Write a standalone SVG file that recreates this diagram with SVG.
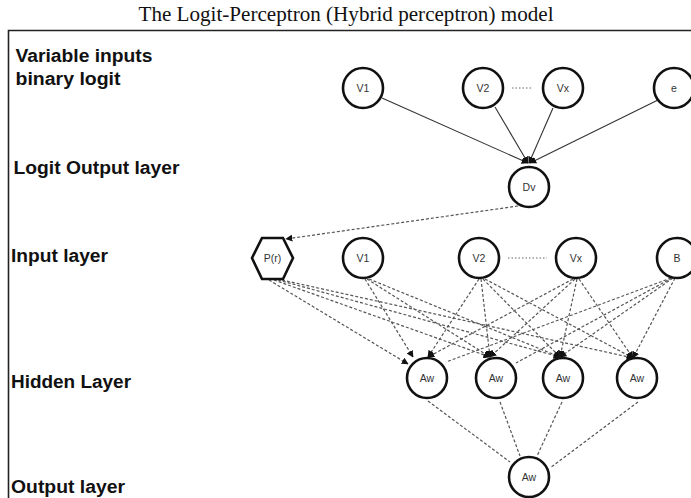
<svg xmlns="http://www.w3.org/2000/svg" width="691" height="498" viewBox="0 0 691 498">
<style>
.title{font-family:"Liberation Serif","Times New Roman",serif;font-size:20.5px;fill:#111}
.lbl{font-family:"Liberation Sans",Arial,sans-serif;font-weight:bold;font-size:18px;fill:#111}
.node{fill:#fff;stroke:#111;stroke-width:2.6}
.nt{font-family:"Liberation Sans",Arial,sans-serif;font-size:10.5px;fill:#333;text-anchor:middle;dominant-baseline:central}
.solid{stroke:#333;stroke-width:1.1;fill:none}
.dash{stroke:#555;stroke-width:1.2;stroke-dasharray:3 2;fill:none}
.dots{stroke:#666;stroke-width:1;stroke-dasharray:1.5 2;fill:none}
</style>
<defs>
<marker id="ah" viewBox="0 0 10 10" refX="9" refY="5" markerWidth="7" markerHeight="7" markerUnits="userSpaceOnUse" orient="auto">
<path d="M0,0 L10,5 L0,10 z" fill="#111"/>
</marker>
</defs>
<rect width="691" height="498" fill="#fff"/>
<text class="title" x="346" y="21" text-anchor="middle" textLength="415" lengthAdjust="spacingAndGlyphs">The Logit-Perceptron (Hybrid perceptron) model</text>
<path d="M8.5,498 V30.5 H691" fill="none" stroke="#222" stroke-width="1.6"/>
<g id="labels">
<text class="lbl" x="15.5" y="62" textLength="137" lengthAdjust="spacingAndGlyphs">Variable inputs</text>
<text class="lbl" x="15.5" y="85" textLength="105" lengthAdjust="spacingAndGlyphs">binary logit</text>
<text class="lbl" x="13.5" y="174" textLength="166" lengthAdjust="spacingAndGlyphs">Logit Output layer</text>
<text class="lbl" x="11" y="262" textLength="97" lengthAdjust="spacingAndGlyphs">Input layer</text>
<text class="lbl" x="11" y="388" textLength="120" lengthAdjust="spacingAndGlyphs">Hidden Layer</text>
<text class="lbl" x="11" y="493" textLength="114" lengthAdjust="spacingAndGlyphs">Output layer</text>
</g>
<g id="connectors">
<line class="solid" x1="382" y1="98" x2="528" y2="163" marker-end="url(#ah)"/>
<line class="solid" x1="495" y1="107" x2="528" y2="163" marker-end="url(#ah)"/>
<line class="solid" x1="553" y1="108" x2="529" y2="163" marker-end="url(#ah)"/>
<line class="solid" x1="658" y1="100" x2="530" y2="163" marker-end="url(#ah)"/>
<line class="dots" x1="512" y1="88" x2="533" y2="88"/>
<line class="dash" x1="518" y1="206" x2="286" y2="239" marker-end="url(#ah)"/>
<line class="dots" x1="508" y1="258" x2="547" y2="258"/>
<line class="dash" x1="269" y1="280" x2="408" y2="364" marker-end="url(#ah)"/>
<line class="dash" x1="274" y1="280" x2="490" y2="357" marker-end="url(#ah)"/>
<line class="dash" x1="278" y1="280" x2="560" y2="357" marker-end="url(#ah)"/>
<line class="dash" x1="282" y1="280" x2="633" y2="358" marker-end="url(#ah)"/>
<line class="dash" x1="365" y1="279" x2="413" y2="357" marker-end="url(#ah)"/>
<line class="dash" x1="367" y1="279" x2="490" y2="357" marker-end="url(#ah)"/>
<line class="dash" x1="369" y1="279" x2="560" y2="357" marker-end="url(#ah)"/>
<line class="dash" x1="479" y1="279" x2="428" y2="357" marker-end="url(#ah)"/>
<line class="dash" x1="481" y1="279" x2="490" y2="357" marker-end="url(#ah)"/>
<line class="dash" x1="483" y1="279" x2="560" y2="357" marker-end="url(#ah)"/>
<line class="dash" x1="485" y1="279" x2="633" y2="358" marker-end="url(#ah)"/>
<line class="dash" x1="573" y1="279" x2="428" y2="357" marker-end="url(#ah)"/>
<line class="dash" x1="575" y1="279" x2="490" y2="357" marker-end="url(#ah)"/>
<line class="dash" x1="577" y1="279" x2="560" y2="357" marker-end="url(#ah)"/>
<line class="dash" x1="579" y1="279" x2="633" y2="358" marker-end="url(#ah)"/>
<line class="dash" x1="671" y1="278" x2="446" y2="362"/>
<line class="dash" x1="672" y1="278" x2="516" y2="363"/>
<line class="dash" x1="673" y1="278" x2="560" y2="357" marker-end="url(#ah)"/>
<line class="dash" x1="675" y1="278" x2="633" y2="358" marker-end="url(#ah)"/>
<line class="dash" x1="428" y1="401" x2="510" y2="462"/>
<line class="dash" x1="500" y1="402" x2="520" y2="456"/>
<line class="dash" x1="562" y1="402" x2="537" y2="456"/>
<line class="dash" x1="638" y1="402" x2="550" y2="468"/>
</g>
<g id="n-v1-top"><circle class="node" cx="363" cy="88" r="20"/><text class="nt" x="363" y="88">V1</text></g>
<g id="n-v2-top"><circle class="node" cx="483" cy="88" r="20"/><text class="nt" x="483" y="88">V2</text></g>
<g id="n-vx-top"><circle class="node" cx="563" cy="88" r="20"/><text class="nt" x="563" y="88">Vx</text></g>
<g id="n-e"><circle class="node" cx="674" cy="88" r="20"/><text class="nt" x="674" y="88">e</text></g>
<g id="n-dv"><circle class="node" cx="529" cy="187" r="20"/><text class="nt" x="529" y="187">Dv</text></g>
<g id="n-pr"><polygon class="node" points="252,258 262,238 283,238 293,258 283,279 262,279"/><text class="nt" x="272.5" y="258">P(r)</text></g>
<g id="n-v1"><circle class="node" cx="363" cy="258" r="20"/><text class="nt" x="363" y="258">V1</text></g>
<g id="n-v2"><circle class="node" cx="479" cy="258" r="20"/><text class="nt" x="479" y="258">V2</text></g>
<g id="n-vx"><circle class="node" cx="576" cy="258" r="20"/><text class="nt" x="576" y="258">Vx</text></g>
<g id="n-b"><circle class="node" cx="677" cy="258" r="20"/><text class="nt" x="677" y="258">B</text></g>
<g id="n-h1"><circle class="node" cx="427" cy="378" r="20"/><text class="nt" x="427" y="378">Aw</text></g>
<g id="n-h2"><circle class="node" cx="496" cy="378" r="20"/><text class="nt" x="496" y="378">Aw</text></g>
<g id="n-h3"><circle class="node" cx="563" cy="378" r="20"/><text class="nt" x="563" y="378">Aw</text></g>
<g id="n-h4"><circle class="node" cx="637" cy="378" r="20"/><text class="nt" x="637" y="378">Aw</text></g>
<g id="n-out"><circle class="node" cx="529" cy="477" r="20"/><text class="nt" x="529" y="477">Aw</text></g>
</svg>
